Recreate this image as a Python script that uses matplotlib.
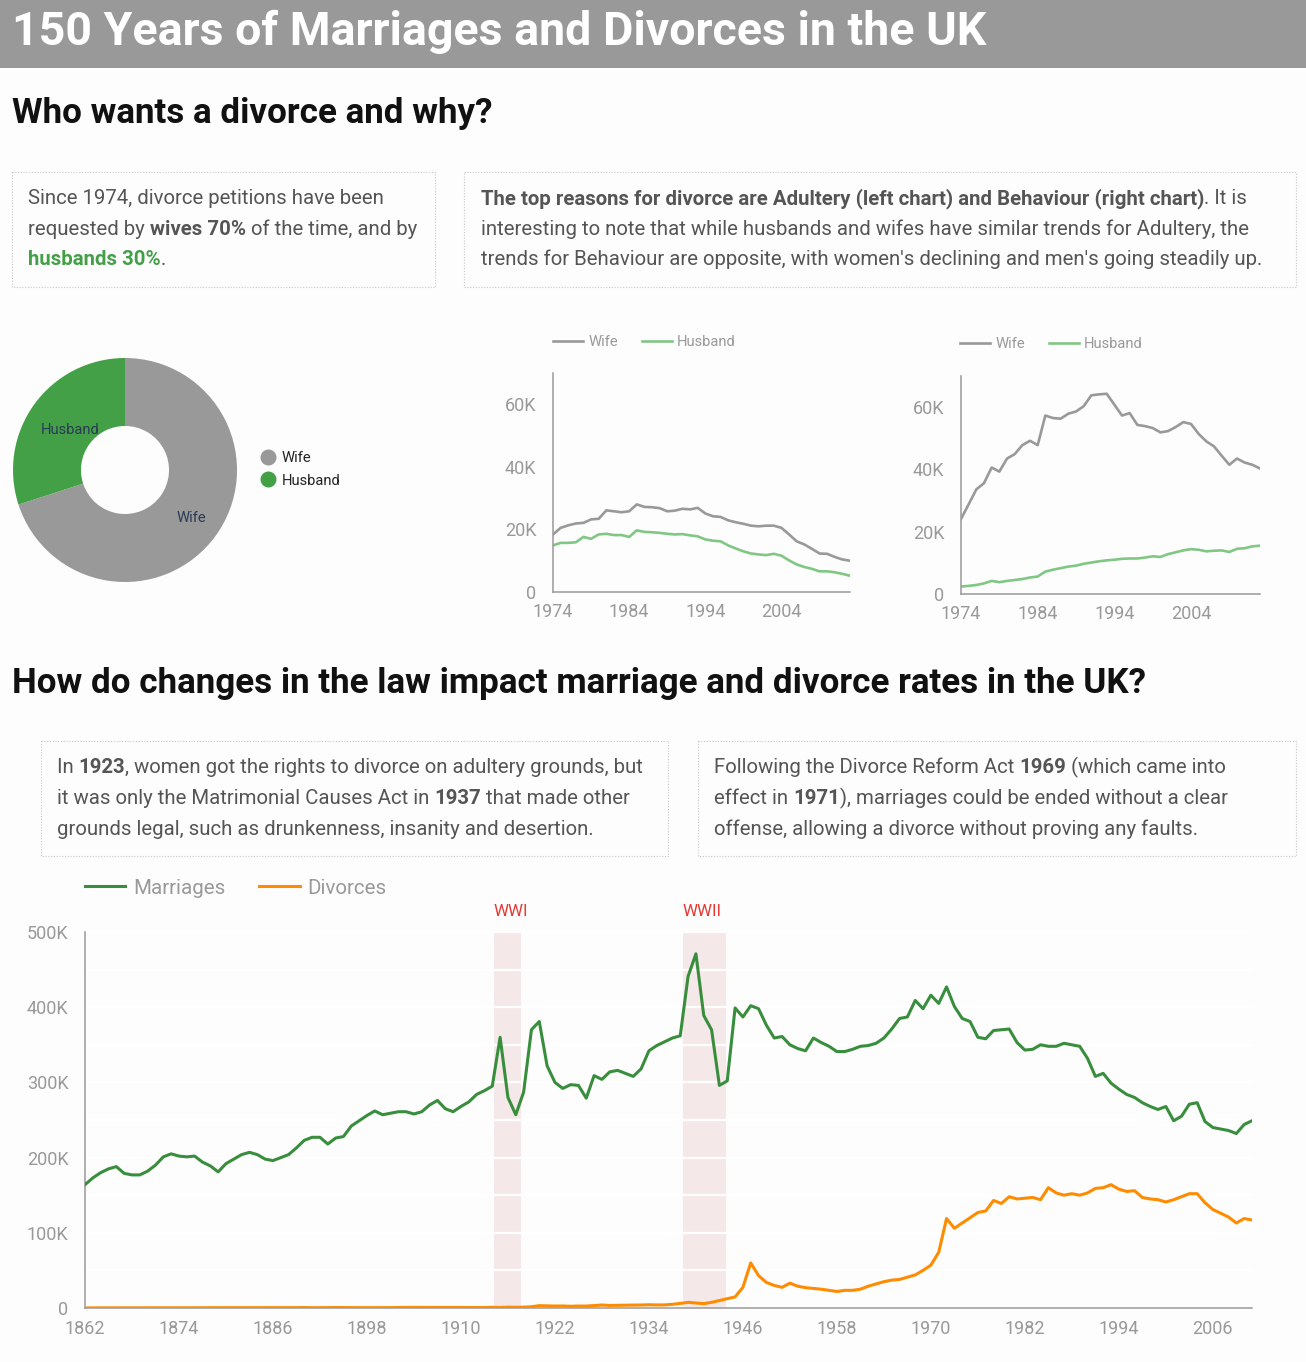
import matplotlib
matplotlib.use('Agg')
import matplotlib.pyplot as plt
import numpy as np
from matplotlib.patches import Rectangle
from matplotlib.lines import Line2D
from matplotlib.ticker import FuncFormatter

plt.rcParams['font.family'] = ['Roboto', 'DejaVu Sans']

# ---- data (values in thousands) ----
first_year = 1862
marriages = [
    164, 173, 180, 185, 188, 179, 177, 177, 182, 190,
    201, 205, 202, 201, 202, 194, 189, 181, 192, 198,
    204, 207, 204, 198, 196, 200, 204, 213, 223, 227,
    227, 218, 226, 228, 242, 249, 256, 262, 257, 259,
    261, 261, 258, 261, 270, 276, 265, 261, 268, 274,
    284, 289, 295, 360, 280, 257,
    287, 370, 381, 322, 300, 292, 297, 296, 279, 309,
    304, 314, 316, 312, 308, 318, 342, 349, 354, 359,
    362, 441, 471, 389, 370, 296, 302, 399, 387, 402,
    398, 376, 359, 361, 350, 345, 342, 359, 353, 348,
    341, 341, 344, 348, 349, 352,
    359, 371, 385, 387, 409, 398, 416, 405, 427, 401,
    385, 381, 360, 358, 369, 370, 371, 353, 343, 344,
    350, 348, 348, 352, 350, 348, 332, 308, 312, 299,
    291, 284, 280, 273, 268, 264, 268, 249, 255, 271,
    273, 248, 240, 238, 236, 232, 244, 249,
]
divorces = [
    0.1, 0.2, 0.2, 0.2, 0.2, 0.2, 0.2, 0.2, 0.2, 0.2,
    0.2, 0.3, 0.3, 0.3, 0.3, 0.4, 0.4, 0.4, 0.5, 0.5,
    0.4, 0.5, 0.5, 0.5, 0.5, 0.5, 0.5, 0.5, 0.6, 0.4,
    0.4, 0.5, 0.6, 0.5, 0.5, 0.5, 0.5, 0.6, 0.6, 0.5,
    0.7, 0.8, 0.8, 0.7, 0.7, 0.7, 0.7, 0.7, 0.7, 0.6,
    0.6, 0.6, 0.9, 0.7, 1.1, 1.0, 1.1, 1.7,
    3.1, 2.8, 2.6, 2.7, 2.3, 2.6, 2.6, 3.2, 4.0, 3.4,
    3.6, 3.8, 3.9, 4.0, 4.3, 4.1, 4.1, 4.9, 6.1,
    7.5, 6.7, 5.8, 7.5, 10, 12.4, 14.7, 27.5, 60, 43,
    34, 30, 27.5, 33, 29, 27, 26, 25, 23.5, 22,
    23.5, 23.5, 25, 29, 32,
    35, 37, 38, 41, 44, 50, 57, 74, 119, 106,
    113, 120, 127, 129, 143, 139, 148, 145, 146, 147,
    144, 160, 153, 150, 152, 150, 153, 159, 160, 164,
    158, 155, 156, 147, 145, 144, 141, 144, 148, 152,
    152, 140, 131, 126, 121, 113, 119, 117,
]
wars = [('WWI', 1914.2, 1917.7), ('WWII', 1938.3, 1943.8)]

petition_start = 1974
adultery_wife = [18.4, 20.5, 21.3, 21.9, 22.1, 23.2, 23.4, 26.1, 25.8, 25.5,
                 25.8, 28.0, 27.2, 27.1, 26.8, 25.8, 26.0, 26.6, 26.4, 26.9,
                 25.1, 24.2, 24.0, 22.9, 22.3, 21.8, 21.2, 21.0, 21.2, 21.2,
                 20.5, 18.4, 16.2, 15.2, 13.8, 12.3, 12.2, 11.2, 10.4, 10.0]
adultery_husband = [14.9, 15.7, 15.7, 15.9, 17.6, 17.0, 18.4, 18.6, 18.2, 18.2,
                    17.6, 19.7, 19.2, 19.1, 18.9, 18.6, 18.4, 18.5, 18.1, 17.8,
                    16.8, 16.4, 16.2, 14.9, 13.9, 13.0, 12.3, 12.0, 11.8, 12.2,
                    11.6, 10.1, 8.8, 8.0, 7.4, 6.6, 6.6, 6.3, 5.8, 5.2]
behaviour_wife = [24.1, 28.8, 33.6, 35.6, 40.6, 39.3, 43.5, 44.9, 47.8, 49.2,
                  47.8, 57.3, 56.5, 56.3, 57.9, 58.6, 60.3, 63.8, 64.1, 64.3,
                  60.8, 57.3, 58.1, 54.3, 53.9, 53.3, 51.9, 52.3, 53.6, 55.2,
                  54.6, 51.4, 49.0, 47.4, 44.4, 41.5, 43.5, 42.2, 41.5, 40.3]
behaviour_husband = [2.4, 2.6, 2.9, 3.4, 4.2, 3.8, 4.2, 4.5, 4.8, 5.3,
                     5.6, 7.2, 7.8, 8.3, 8.8, 9.1, 9.7, 10.1, 10.5, 10.8,
                     11.0, 11.3, 11.4, 11.4, 11.7, 12.1, 11.9, 12.8, 13.4, 14.0,
                     14.4, 14.2, 13.7, 13.9, 14.0, 13.5, 14.5, 14.7, 15.3, 15.5]

pie_labels = ['Wife', 'Husband']
pie_share = [70, 30]

GREY = '#999999'
TXT = '#555555'
W, H = 1306, 1362

fig = plt.figure(figsize=(W / 100, H / 100), dpi=100, facecolor='#fdfdfd')
bg = fig.add_axes([0, 0, 1, 1])
bg.set_xlim(0, W)
bg.set_ylim(H, 0)
bg.axis('off')
rend = fig.canvas.get_renderer()


def px_axes(l, t, r, b):
    return fig.add_axes([l / W, 1 - b / H, (r - l) / W, (b - t) / H])


def width_of(s, **kw):
    a = bg.text(0, 0, s + '|', **kw)
    b = bg.text(0, 0, '|', **kw)
    w = a.get_window_extent(rend).width - b.get_window_extent(rend).width
    a.remove()
    b.remove()
    return w


def rich(x, y, parts, size=14.7):
    for s, bold, color in parts:
        kw = dict(fontsize=size, fontweight='bold' if bold else 'normal', color=color)
        bg.text(x, y, s, va='baseline', ha='left', **kw)
        x += width_of(s, **kw)


def box(x0, y0, x1, y1):
    bg.add_patch(Rectangle((x0, y0), x1 - x0, y1 - y0, fill=False, ec='#c8c8c8',
                           lw=0.8, ls=(0, (1, 1.5))))


# header + headings
bg.add_patch(Rectangle((0, 0), W, 68, color=GREY, lw=0))
bg.text(12, 45, '150 Years of Marriages and Divorces in the UK', fontsize=33.5,
        fontweight='bold', color='white', va='baseline')
bg.text(12, 123, 'Who wants a divorce and why?', fontsize=25.2, fontweight='bold',
        color='#111111', va='baseline')
bg.text(12, 693, 'How do changes in the law impact marriage and divorce rates in the UK?',
        fontsize=25.2, fontweight='bold', color='#111111', va='baseline')

# text boxes
box(12, 172, 435, 287)
rich(28, 204, [('Since 1974, divorce petitions have been', False, TXT)])
rich(28, 235, [('requested by ', False, TXT), ('wives 70%', True, TXT),
               (' of the time, and by', False, TXT)])
rich(28, 265, [('husbands 30%', True, '#43a047'), ('.', False, TXT)])

box(464, 172, 1296, 287)
rich(481, 204, [('The top reasons for divorce are Adultery (left chart) and Behaviour (right chart)', True, TXT),
                ('. It is', False, TXT)])
rich(481, 235, [('interesting to note that while husbands and wifes have similar trends for Adultery, the', False, TXT)])
rich(481, 265, [("trends for Behaviour are opposite, with women's declining and men's going steadily up.", False, TXT)])

box(41, 741, 668, 856)
rich(57, 773, [('In ', False, TXT), ('1923', True, TXT),
               (', women got the rights to divorce on adultery grounds, but', False, TXT)])
rich(57, 804, [('it was only the Matrimonial Causes Act in ', False, TXT), ('1937', True, TXT),
               (' that made other', False, TXT)])
rich(57, 835, [('grounds legal, such as drunkenness, insanity and desertion.', False, TXT)])

box(698, 741, 1296, 856)
rich(714, 773, [('Following the Divorce Reform Act ', False, TXT), ('1969', True, TXT),
                (' (which came into', False, TXT)])
rich(714, 804, [('effect in ', False, TXT), ('1971', True, TXT),
                ('), marriages could be ended without a clear', False, TXT)])
rich(714, 835, [('offense, allowing a divorce without proving any faults.', False, TXT)])

# donut
pax = px_axes(13, 358, 237, 582)
pie_colors = [GREY, '#43a047']
wedges, texts = pax.pie(pie_share, labels=pie_labels, colors=pie_colors, startangle=90,
                        counterclock=False, radius=1, labeldistance=0.65,
                        wedgeprops=dict(width=0.607, lw=0),
                        textprops=dict(fontsize=10.6, color='#2b3a55'))
for w, t, r in zip(wedges, texts, [0.73, 0.61]):
    th = np.deg2rad((w.theta1 + w.theta2) / 2)
    t.set_position((r * np.cos(th), r * np.sin(th)))
    t.set_ha('center')
    t.set_va('center')
pax.set_xlim(-1, 1)
pax.set_ylim(-1, 1)
handles = [Line2D([], [], ls='', marker='o', markersize=10.5, color=c) for c in pie_colors]
fig.legend(handles, pie_labels, loc='center left', bbox_to_anchor=(260.5 / W, 1 - 469.5 / H),
           frameon=False, fontsize=10.6, handlelength=1.0, handletextpad=0.45,
           labelspacing=0.55, borderpad=0, borderaxespad=0, labelcolor='#222222')

k_fmt = FuncFormatter(lambda v, _: '0' if v == 0 else f'{v:.0f}K')


def style(ax, fs, xpad, ypad):
    ax.set_facecolor('none')
    for s in ('top', 'right'):
        ax.spines[s].set_visible(False)
    for s in ('left', 'bottom'):
        ax.spines[s].set_color(GREY)
        ax.spines[s].set_linewidth(1.1)
    ax.tick_params(axis='x', length=0, pad=xpad, labelsize=fs, labelcolor=GREY)
    ax.tick_params(axis='y', length=0, pad=ypad, labelsize=fs, labelcolor=GREY)
    ax.yaxis.set_major_formatter(k_fmt)


def small(box_px, wife, husb, leg_x, leg_y):
    ax = px_axes(*box_px)
    yrs = np.arange(petition_start, petition_start + len(wife))
    ax.plot(yrs, wife, color=GREY, lw=1.9, label='Wife')
    ax.plot(yrs, husb, color='#81c784', lw=1.9, label='Husband')
    ax.set_xlim(1974, 2013)
    ax.set_ylim(0, 70)
    ax.set_yticks([0, 20, 40, 60])
    ax.set_xticks([1974, 1984, 1994, 2004])
    style(ax, 13, 8, 12)
    ax.legend(loc='center left', bbox_to_anchor=(leg_x / W, 1 - leg_y / H),
              bbox_transform=fig.transFigure, ncol=2, frameon=False, fontsize=10.6,
              handlelength=2.04, handletextpad=0.35, columnspacing=1.63,
              borderpad=0, borderaxespad=0, labelcolor=GREY)


small((553, 373, 850, 592), adultery_wife, adultery_husband, 553, 342)
small((961, 376, 1260, 594), behaviour_wife, behaviour_husband, 960, 344)

# long-run chart
ax = px_axes(85, 932, 1252, 1308)
years = np.arange(first_year, first_year + len(marriages))
for name, a, b in wars:
    ax.axvspan(a, b, color='#f5e8e8', lw=0, zorder=0.5)
    ax.text(a, 527, name, color='#e53935', fontsize=12.2, ha='left', va='center', clip_on=False)
for v in range(50, 501, 50):
    ax.axhline(v, color='white', lw=1.6, zorder=0.8)
ax.plot(years, marriages, color='#388e3c', lw=2.2, zorder=3, label='Marriages')
ax.plot(years, divorces, color='#ff8c00', lw=2.2, zorder=3, label='Divorces')
ax.set_xlim(1862, 2011)
ax.set_ylim(0, 500)
ax.set_yticks(range(0, 501, 100))
ax.set_xticks(range(1862, 2011, 12))
style(ax, 13, 9, 12)
ax.legend(loc='center left', bbox_to_anchor=(85 / W, 1 - 888 / H), bbox_transform=fig.transFigure,
          ncol=2, frameon=False, fontsize=14.8, handlelength=1.95, handletextpad=0.39,
          columnspacing=1.66, borderpad=0, borderaxespad=0, labelcolor=GREY)

fig.savefig('out.png', dpi=100, facecolor=fig.get_facecolor())
